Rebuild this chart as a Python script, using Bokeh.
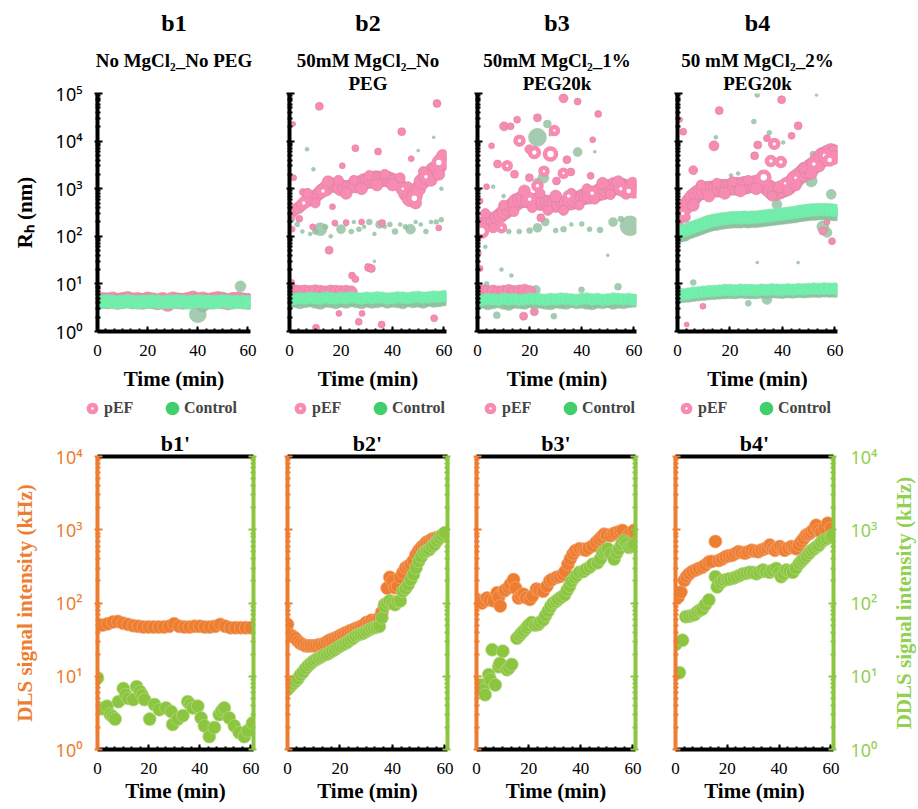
from bokeh.plotting import figure
from bokeh.models import (Range1d, LogAxis, LinearAxis, FixedTicker, SingleIntervalTicker,
                          Title, Legend, LegendItem)
from bokeh.layouts import row, column
from bokeh.embed import file_html
from bokeh.resources import INLINE

# ------------------------------------------------------------------ data
TIME_2 = [0, 2, 4, 6, 8, 10, 12, 14, 16, 18, 20, 22, 24, 26, 28, 30, 32, 34, 36, 38, 40,
          42, 44, 46, 48, 50, 52, 54, 56, 58, 60]
TIME_15 = [0, 1.5, 3, 4.5, 6, 7.5, 9, 10.5, 12, 13.5, 15, 16.5, 18, 19.5, 21, 22.5, 24, 25.5,
           27, 28.5, 30, 31.5, 33, 34.5, 36, 37.5, 39, 40.5, 42, 43.5, 45, 46.5, 48, 49.5, 51,
           52.5, 54, 55.5, 57, 58.5, 60]
TIME_1 = [0, 1, 2, 3, 4, 5, 6, 7, 8, 9, 10, 11, 12, 13, 14, 15, 16, 17, 18, 19, 20, 21, 22,
          23, 24, 25, 26, 27, 28, 29, 30, 31, 32, 33, 34, 35, 36, 37, 38, 39, 40, 41, 42, 43,
          44, 45, 46, 47, 48, 49, 50, 51, 52, 53, 54, 55, 56, 57, 58, 59, 60]

# --- b1 : Rh (nm)
B1_PEF_V = [4.3, 4.5, 4.4, 4.6, 4.3, 4.5, 4.7, 4.4, 4.5, 4.3, 4.6, 4.4, 4.2, 4.5, 3.9, 4.6,
            4.4, 4.3, 4.5, 4.8, 4.4, 4.6, 4.3, 4.5, 4.7, 4.4, 4.2, 4.5, 4.6, 4.4, 4.3]
B1_PEF_X_T = [46]
B1_PEF_X_V = [0.95]
B1_PEF_X_S = [5]
B1_RING_T = [60]
B1_RING_V = [4.3]
B1_RING_S = [11]
B1_CTRL_V = [4.1, 4.2, 4.3, 4.2, 4.1, 4.2, 4.3, 4.2, 4.1, 4.2, 4.2, 4.3, 4.2, 4.1, 4.2, 4.2,
             4.3, 4.2, 4.1, 4.2, 4.3, 4.2, 4.2, 4.1, 4.2, 4.3, 4.2, 4.1, 4.2, 4.2, 4.1]
B1_CTRL_X_T = [36, 40, 42, 46, 50, 52, 57]
B1_CTRL_X_V = [4.5, 2.3, 3.4, 4.6, 4.8, 4.0, 8.9]
B1_CTRL_X_S = [12, 17, 12, 14, 14, 12, 11]

# --- b2
B2_PEF_T = [0.5, 2, 3.5, 5, 6.5, 8, 9.5, 11, 12.5, 14, 15.5, 17, 18.5, 20, 21.5, 23, 24.5, 26,
            27.5, 29, 30.5, 32, 33.5, 35, 36.5, 38, 39.5, 41, 42.5, 44, 45.5, 47, 48.5, 50,
            51.5, 53, 54.5, 56, 57.5, 59, 60]
B2_PEF_V = [282, 355, 398, 468, 550, 603, 646, 759, 891, 1000, 1122, 1230, 1122, 1047, 1047,
            1096, 1148, 1202, 1318, 1413, 1445, 1514, 1585, 1585, 1622, 1585, 1514, 1413, 1259,
            1000, 794, 631, 708, 1000, 1413, 1778, 1995, 2399, 2818, 3548, 3981]
B2_PEF_S = [10, 11, 12, 12, 13, 12, 14, 13, 14, 15, 14, 13, 14, 16, 15, 13, 14, 16, 15, 16, 15,
            16, 17, 16, 15, 16, 15, 15, 14, 14, 16, 17, 16, 15, 16, 15, 16, 17, 16, 18, 17]
B2_PEF_X_T = [11.6, 57.3, 1.4, 43.6, 25.6, 34.4, 20.5, 47.3, 1.6, 5.2, 16.7, 3.8, 1.0, 17.6,
              15.4, 30.7, 31.8, 24.3, 25.6, 19.2, 28.2, 26.9, 10.3, 35.8, 56.2, 40.9, 36, 28,
              9, 22, 58, 7, 10, 15, 19, 22, 25, 28, 31, 34, 37, 40, 43, 46, 49, 52, 55, 58,
              59.5, 0.5, 1.0]
B2_PEF_X_V = [53700, 61700, 23000, 15800, 7080, 6030, 3020, 4270, 1700, 850, 417, 234, 141,
              191, 51, 22, 21, 15, 12.6, 2.4, 2.4, 1.6, 1.2, 1.4, 1.9, 4.1, 191, 200, 158, 195,
              150, 800, 500, 1400, 1500, 800, 1500, 1000, 1900, 1200, 2000, 1200, 1700, 1100,
              500, 2300, 1500, 2000, 5000, 10.5, 11]
B2_PEF_X_S = [8, 8, 5, 8, 7, 7, 6, 6, 6, 7, 6, 7, 6, 6, 8, 8, 8, 7, 7, 6, 6, 7, 7, 7, 7, 6, 7,
              6, 6, 6, 6, 10, 10, 12, 10, 12, 10, 12, 10, 12, 10, 12, 10, 10, 12, 10, 12, 12,
              12, 6, 5]
B2_RING_T = [5.5, 13, 44, 48.5, 53, 58]
B2_RING_V = [501, 891, 1000, 631, 1778, 3548]
B2_RING_S = [8, 8, 7, 10, 8, 10]
B2_PEF_LOW_T = [0, 2, 4, 6, 8, 10, 12, 14, 16, 18, 20, 22, 24]
B2_PEF_LOW_V = [7.4, 7.2, 7.0, 7.1, 6.9, 7.2, 7.0, 6.8, 7.1, 7.0, 6.9, 7.0, 6.8]
B2_CTRL_LOW_V = [4.6, 4.8, 5.0, 4.9, 5.1, 5.0, 4.9, 5.2, 5.0, 4.9, 5.1, 5.0, 5.2, 5.0, 4.9,
                 5.1, 5.0, 5.2, 5.1, 4.9, 5.0, 5.2, 5.1, 5.0, 5.2, 5.3, 5.1, 5.2, 5.4, 5.3, 5.5]
B2_SAGE_LOW_V = [4.2, 4.4, 4.1, 4.3, 4.5, 4.2, 4.0, 4.4, 4.3, 4.1, 4.4, 4.2, 4.5, 4.3, 4.1,
                 4.4, 4.2, 4.3, 4.5, 4.2, 4.4, 4.3, 4.1, 4.5, 4.3, 4.4, 4.2, 4.6, 4.4, 4.5, 4.7]
B2_CTRL_X_T = [3, 5, 8, 10, 12, 14, 16, 18, 20, 22, 24, 25, 27, 29, 31, 33, 35, 37, 39, 41,
               43, 45, 47, 49, 51, 53, 55, 57, 59, 6.8, 9.3, 50, 56, 59, 2, 1, 30, 33]
B2_CTRL_X_V = [178, 126, 112, 126, 141, 158, 100, 178, 141, 178, 126, 200, 141, 158, 200, 112,
               178, 158, 178, 126, 178, 158, 141, 200, 178, 126, 200, 200, 224, 6760, 2570,
               6310, 12000, 1000, 350, 220, 25, 30]
B2_CTRL_X_S = [5, 4, 4, 6, 13, 5, 4, 4, 9, 4, 5, 4, 5, 4, 6, 4, 8, 4, 5, 6, 4, 5, 10, 4, 4, 5,
               4, 5, 5, 4, 4, 3, 3, 4, 6, 5, 3, 3]

# --- b3
B3_PEF_V = [166, 178, 191, 204, 224, 251, 282, 331, 380, 447, 525, 589, 603, 575, 562, 537,
            525, 513, 501, 490, 479, 479, 490, 513, 537, 575, 631, 676, 708, 741, 776, 832,
            891, 977, 1072, 1122, 1122, 1072, 1047, 1000, 977]
B3_PEF_S = [16, 15, 14, 14, 15, 14, 15, 16, 15, 16, 17, 16, 17, 16, 15, 16, 17, 16, 15, 16,
            17, 16, 15, 16, 17, 16, 15, 16, 17, 18, 16, 17, 18, 17, 16, 18, 17, 18, 16, 17, 18]
B3_PEF_X_T = [33, 38.4, 46.3, 23, 15.2, 10.2, 12.7, 5.4, 19.9, 7.7, 14.2, 34.3, 35.8, 32.4,
              30.3, 19.9, 43.4, 44.2, 3.5, 1.0, 24.3, 1.0, 17.7, 21.8, 0.5,
              3, 6, 10, 14, 18, 21, 24, 27, 30, 33, 36, 39, 42, 45, 48, 51, 54, 57, 59.5]
B3_PEF_X_V = [79400, 67600, 37200, 30900, 28200, 20400, 20400, 7940, 6760, 3310, 2000, 4070,
              2240, 2090, 1450, 1700, 1860, 10700, 1100, 550, 245, 21, 2.1, 2.6, 45,
              300, 150, 450, 330, 900, 400, 800, 350, 700, 350, 800, 450, 1000, 600, 1300,
              750, 1400, 800, 1300]
B3_PEF_X_S = [9, 7, 7, 8, 7, 9, 7, 6, 9, 8, 8, 8, 8, 8, 8, 8, 7, 6, 6, 6, 8, 6, 8, 8, 5,
              10, 10, 10, 10, 12, 10, 10, 10, 12, 10, 10, 10, 10, 10, 12, 10, 12, 12, 12]
B3_RING_T = [1.6, 9.2, 16.1, 21.8, 28, 11.4, 25.5, 23, 29.5, 33, 35, 55, 58, 20, 44]
B3_RING_V = [129, 151, 10200, 5750, 5370, 3020, 2340, 1150, 16600, 2100, 700, 1000, 900, 600,
             800]
B3_RING_S = [11, 7, 8, 9, 11, 7, 7, 8, 7, 7, 8, 8, 9, 8, 8]
B3_PEF_LOW_T = [0, 2, 4, 6, 8, 10, 12, 14, 16, 18, 20]
B3_PEF_LOW_V = [7.0, 7.2, 6.9, 7.1, 6.8, 7.0, 7.3, 6.9, 7.1, 7.4, 6.9]
B3_CTRL_LOW_V = [4.5, 4.6, 4.8, 4.7, 4.6, 4.9, 4.7, 4.8, 4.6, 4.7, 4.9, 4.8, 4.7, 4.6, 4.8,
                 4.7, 4.9, 4.8, 4.7, 4.6, 4.8, 4.9, 4.7, 4.8, 4.6, 4.7, 4.9, 4.8, 4.7, 4.8, 4.6]
B3_SAGE_LOW_V = [4.0, 4.2, 3.9, 4.1, 4.3, 4.0, 3.8, 4.2, 4.1, 4.0, 4.3, 4.1, 4.2, 4.0, 3.9,
                 4.2, 4.1, 4.0, 4.3, 4.1, 4.2, 4.0, 3.9, 4.2, 4.1, 4.3, 4.0, 4.2, 4.1, 4.3, 4.4]
B3_CTRL_X_T = [23, 26.8, 38.4, 25.3, 23, 12, 16, 20, 23, 26, 30, 33, 36, 40, 43, 47, 52, 55,
               58.5, 3.5, 9.2, 13, 29.3, 7.4, 53.9, 39.9, 22.4, 6, 10, 28, 45, 3, 50]
B3_CTRL_X_V = [12000, 22900, 5890, 1700, 1350, 126, 126, 132, 151, 200, 132, 141, 178, 182,
               141, 135, 200, 230, 166, 10, 20, 15, 2.1, 2.2, 8.7, 7.5, 7.5, 1100, 700, 14000,
               6000, 60, 40]
B3_CTRL_X_S = [18, 8, 9, 11, 9, 5, 5, 6, 9, 8, 5, 6, 4, 5, 5, 6, 9, 6, 20, 5, 4, 4, 6, 7, 7,
               6, 9, 4, 4, 4, 3, 4, 3]

# --- b4
B4_PEF_V = [229, 316, 417, 537, 661, 794, 871, 912, 955, 1000, 1000, 1023, 1047, 1072, 1096,
            1122, 1148, 1175, 1202, 1230, 1259, 1259, 1202, 1047, 912, 851, 891, 1000, 1122,
            1318, 1585, 1862, 2138, 2455, 2818, 3311, 3981, 4677, 5248, 5754, 5495]
B4_PEF_S = [14, 15, 16, 16, 17, 16, 17, 18, 17, 16, 17, 18, 17, 16, 17, 18, 17, 18, 17, 16,
            18, 17, 16, 17, 18, 17, 16, 17, 18, 17, 18, 17, 18, 17, 18, 17, 18, 19, 18, 18, 17]
B4_PEF_X_T = [39.7, 15.9, 1.0, 2.2, 13.9, 6.0, 30.6, 29.4, 34.1, 43.5, 46, 55.4, 58.9, 9.7,
              3.5, 12, 57, 0, 1,
              3, 6, 9, 12, 15, 18, 21, 24, 27, 30, 33, 36, 39, 42, 45, 48, 51, 54, 57, 59.5]
B4_PEF_X_V = [74100, 43700, 28200, 15800, 7940, 2450, 8320, 4900, 11500, 12900, 20900, 129,
              79, 3.4, 1.4, 1.0, 200, 6.2, 5.8,
              250, 450, 1200, 700, 1300, 800, 1400, 900, 1500, 1000, 1500, 700, 1100, 900,
              1200, 2700, 2100, 3000, 4000, 4500]
B4_PEF_X_S = [8, 8, 5, 7, 10, 9, 8, 8, 7, 7, 8, 8, 7, 6, 5, 5, 6, 10, 8,
              10, 12, 10, 12, 10, 12, 10, 12, 10, 12, 10, 10, 12, 10, 12, 10, 12, 12, 12, 14]
B4_RING_T = [32.9, 36.9, 35.6, 39.4, 45, 52, 56, 58, 41, 2]
B4_RING_V = [1740, 8710, 3800, 3630, 1700, 3300, 5000, 4000, 1300, 300]
B4_RING_S = [11, 8, 8, 8, 7, 8, 8, 9, 7, 8]
B4_CTRL_MID_V = [117, 126, 135, 145, 155, 166, 178, 191, 204, 214, 219, 229, 234, 240, 245,
                 245, 245, 251, 245, 251, 251, 257, 263, 269, 275, 282, 288, 295, 302, 309,
                 316, 331, 339, 347, 355, 355, 363, 363, 363, 355, 347]
B4_SAGE_MID_V = [100, 107, 115, 123, 132, 141, 151, 162, 173, 182, 186, 195, 199, 204, 208,
                 208, 208, 213, 208, 213, 213, 218, 224, 229, 234, 240, 245, 251, 257, 263,
                 269, 281, 288, 295, 302, 302, 309, 309, 309, 302, 295]
B4_CTRL_LOW_V = [5.9, 6.0, 6.2, 6.5, 6.6, 6.8, 7.0, 7.1, 7.2, 7.4, 7.4, 7.3, 7.5, 7.4, 7.4,
                 7.3, 7.5, 7.4, 7.6, 7.5, 7.4, 7.6, 7.5, 7.7, 7.6, 7.8, 7.9, 7.8, 8.0, 7.9, 7.9]
B4_SAGE_LOW_V = [5.3, 5.5, 5.6, 5.8, 6.0, 6.1, 6.3, 6.4, 6.5, 6.6, 6.7, 6.6, 6.8, 6.7, 6.6,
                 6.6, 6.8, 6.7, 6.9, 6.8, 6.7, 6.9, 6.8, 7.0, 6.9, 7.0, 7.1, 7.0, 7.2, 7.1, 7.1]
B4_CTRL_X_T = [30.4, 29.1, 14.6, 20.4, 23.1, 27, 40.3, 51.6, 47.9, 51, 58.6, 37.9, 55.4, 57,
               6, 30.4, 46, 34.1, 27, 0.4, 1, 3, 35, 25, 53]
B4_CTRL_X_V = [93300, 25700, 12000, 1900, 2090, 890, 9330, 5370, 2820, 1450, 760, 468, 158,
               120, 10.7, 28, 28, 4.7, 3.9, 52, 100, 95, 15000, 1300, 93300]
B4_CTRL_X_S = [5, 5, 4, 4, 4, 5, 4, 6, 10, 12, 10, 10, 12, 10, 6, 3, 3, 10, 6, 4, 10, 8, 5,
               4, 3]

# --- b1'..b4' : DLS (orange) and DDLS (green) signal intensity (kHz)
B1S_DLS_V = [50, 50, 52, 55, 56, 53, 51, 49, 48, 47, 47, 47, 47, 47, 48, 52, 48, 47, 47, 48,
             48, 47, 47, 48, 51, 48, 46, 46, 46, 46, 46]
B1S_DDLS_T = [0, 0.6, 2.2, 3.7, 5.0, 6.0, 6.9, 8.2, 10.1, 11.0, 12.0, 14.0, 15.3, 16.6, 17.5,
              18.4, 20.4, 22.3, 24.2, 26.8, 28.8, 29.4, 31.4, 33.4, 35.3, 36.3, 37.3, 39.2,
              40.5, 41.8, 43.7, 45.7, 47.6, 48.6, 49.6, 51.5, 53.5, 55.4, 57.4, 58.7, 60.6]
B1S_DDLS_V = [9.5, 3.7, 3.6, 3.9, 3.0, 2.8, 2.6, 4.5, 6.8, 5.6, 5.0, 4.8, 7.2, 6.2, 5.5, 4.8,
              2.6, 4.1, 3.5, 3.7, 3.3, 2.2, 2.6, 2.9, 4.5, 4.1, 3.7, 3.9, 2.7, 2.1, 1.5, 2.0,
              3.0, 3.4, 3.7, 2.7, 2.1, 1.7, 1.5, 1.8, 2.3]

B2S_DLS_V = [51, 37, 35, 33, 30, 28, 27, 26, 26, 26, 26, 26, 27, 27, 28, 29.5, 31, 32, 33, 34,
             36, 37, 39, 40, 42, 43, 45, 46, 48, 50, 54, 53, 58, 56, 55, 63, 75, 95, 160, 224,
             200, 162, 170, 224, 260, 302, 320, 339, 380, 457, 520, 575, 620, 676, 700, 741,
             760, 776, 800, 832, 871]
B2S_DDLS_V = [6.6, 7.2, 7.9, 8.5, 9.3, 10.5, 11.5, 12.9, 14.1, 15.1, 16.2, 17, 17.8, 18.6,
              19.5, 20, 20.9, 22, 23, 24.5, 25.7, 27, 28, 29.5, 31.6, 33, 35.5, 37, 38, 39,
              41, 43, 45, 46, 47, 48, 63, 91, 100, 107, 100, 95, 105, 107, 145, 158, 178, 209,
              245, 302, 372, 427, 490, 513, 537, 589, 631, 708, 776, 851, 912]

B3S_DLS_T = [0, 1, 2.1, 3, 4, 5, 6.6, 7.9, 8.5, 9.1, 10.4, 11, 12.3, 13, 14.2, 15, 16.1, 17,
             18, 19, 20.5, 21.5, 23, 24, 25.6, 27, 28.1, 29, 30.7, 32, 33.2, 34, 35.1, 36, 37,
             38, 39.5, 41, 42, 43, 44.6, 46, 47.1, 48, 49, 50, 51.5, 52.5, 53.5, 55, 56, 57.9,
             59, 60.4]
B3S_DLS_V = [112, 105, 100, 108, 117, 110, 107, 138, 120, 91, 145, 150, 162, 180, 209, 160,
             117, 125, 132, 118, 112, 125, 155, 150, 145, 170, 200, 210, 224, 230, 245, 270,
             339, 400, 468, 520, 550, 540, 525, 560, 603, 680, 741, 800, 871, 850, 832, 880,
             912, 950, 977, 832, 900, 977]
B3S_DDLS_T = [0, 1, 1.9, 2.6, 3.3, 4.7, 5.3, 6, 7.2, 8.5, 9, 10.1, 11.7, 12.5, 13.5, 15.5,
              16.5, 17.3, 18.2, 19.2, 20, 21.1, 22.5, 23.7, 24.5, 25.6, 26.5, 27.5, 28.5, 29.4,
              30.5, 31.3, 32.5, 33.8, 34.8, 35.7, 36.5, 37.6, 38.5, 39.5, 41, 42, 43.5, 44.6,
              46.5, 47.5, 48.4, 49.3, 50.3, 51.5, 52.8, 53.8, 54.7, 55.7, 56.6, 57.5, 58.5,
              59.5, 60.4]
B3S_DDLS_V = [6.9, 7.0, 7.6, 6.5, 5.6, 10.5, 9, 23, 7.6, 13.5, 15, 22, 12.3, 13, 14.5, 33, 36,
              39, 42, 46, 50, 54, 50, 51, 55, 59, 68, 78, 90, 100, 105, 112, 120, 129, 150,
              170, 200, 224, 240, 263, 270, 288, 310, 339, 355, 400, 490, 520, 550, 470, 398,
              480, 550, 640, 708, 650, 575, 600, 631]

B4S_DLS_T = [0.2, 1, 2.1, 3.4, 4.3, 5.3, 6.5, 7.8, 9, 10.4, 11.5, 12.9, 14, 15.4, 16.7, 18,
             19.3, 20.5, 21.8, 23, 24.3, 25.5, 26.9, 28, 29.4, 30.7, 32, 33.2, 34.5, 35.5,
             36.4, 37.5, 38.4, 39.3, 40.3, 41.3, 42.2, 43.5, 44.8, 45.7, 46.7, 47.6, 48.6,
             49.5, 50.5, 51.5, 52.4, 53.3, 54.3, 55.2, 56.2, 57.5, 58.8, 60]
B4S_DLS_V = [135, 120, 141, 204, 230, 251, 270, 282, 295, 309, 330, 363, 370, 692, 380, 400,
             427, 440, 447, 470, 501, 490, 479, 500, 525, 510, 501, 530, 550, 570, 617, 560,
             525, 560, 589, 550, 525, 560, 589, 570, 550, 620, 692, 760, 851, 880, 933, 1000,
             1148, 1000, 933, 1050, 1230, 1047]
B4S_DDLS_T = [0.2, 1.5, 2.7, 4.0, 5.3, 6.6, 7.5, 8.5, 9.5, 10.4, 11.5, 12.9, 15.4, 16.1, 17.5,
              18.6, 20, 21.1, 22.5, 23.7, 25, 26.2, 27.5, 28.7, 30, 31.3, 32.5, 33.8, 35,
              36.4, 37.5, 38.9, 40, 40.8, 41.8, 42.8, 44, 45.3, 46.5, 47.8, 48.8, 49.7, 50.6,
              51.6, 52.5, 53.5, 54.5, 55.4, 56.3, 57.3, 58.5, 59.8, 60.5]
B4S_DDLS_V = [27.5, 11.2, 31, 65, 66, 68, 70, 76, 80, 83, 95, 110, 229, 166, 190, 204, 210,
              214, 220, 229, 240, 251, 255, 263, 260, 251, 265, 282, 270, 263, 280, 295, 260,
              229, 250, 282, 270, 263, 300, 347, 380, 407, 440, 479, 520, 550, 590, 617, 680,
              724, 760, 794, 832]

TOP_TICKS = [1, 10, 100, 1000, 10000, 100000]
TOP_LABELS = {1: "10⁰", 10: "10¹", 100: "10²", 1000: "10³", 10000: "10⁴", 100000: "10⁵"}
BOT_TICKS = [1, 10, 100, 1000, 10000]
BOT_LABELS = {1: "10⁰", 10: "10¹", 100: "10²", 1000: "10³", 10000: "10⁴"}

# ------------------------------------------------------------------ styles
PINK = "#f78bb1"
PINK_LINE = "#d9829f"
MINT = "#6ff0ab"
SAGE = "#8fbf9e"
LEG_GREEN = "#3fcf6b"
ORANGE = "#ed7d31"
LGREEN = "#8cc540"
LGREEN_TXT = "#92d050"
SERIF = "Liberation Serif"
SANS = "Noto Sans"


def minor_list(nd):
    return [m * 10 ** k for k in range(nd) for m in range(2, 10)]


def base_fig(width, height, bl, br, bt, bb, ymax):
    p = figure(width=width, height=height, x_range=Range1d(0, 61), y_range=Range1d(1, ymax),
               y_axis_type="log", output_backend="svg", toolbar_location=None,
               min_border_left=bl, min_border_right=br, min_border_top=bt,
               min_border_bottom=bb)
    p.outline_line_color = None
    p.xgrid.visible = False
    p.ygrid.visible = False
    p.background_fill_color = "white"
    p.border_fill_color = "white"
    return p


def style_x(ax, standoff, label_standoff):
    ax.ticker = SingleIntervalTicker(interval=20, num_minor_ticks=6)
    ax.axis_line_width = 4
    ax.axis_line_color = "black"
    ax.major_tick_in = 5
    ax.major_tick_out = 0
    ax.major_tick_line_width = 2
    ax.minor_tick_in = 3
    ax.minor_tick_out = 0
    ax.minor_tick_line_width = 2
    ax.major_label_text_font = SERIF
    ax.major_label_text_font_size = "17px"
    ax.major_label_text_color = "black"
    ax.major_label_standoff = standoff
    ax.axis_label = "Time (min)"
    ax.axis_label_text_font = SERIF
    ax.axis_label_text_font_style = "bold"
    ax.axis_label_text_font_size = "21px"
    ax.axis_label_text_color = "black"
    ax.axis_label_standoff = label_standoff


def style_y(ax, ticks, labels, color, show, label_text=None, label_color="black",
            standoff=12, label_standoff=14):
    ax.ticker = FixedTicker(ticks=ticks, minor_ticks=minor_list(len(ticks) - 1))
    ax.axis_line_width = 4
    ax.axis_line_color = color
    ax.major_tick_in = 5
    ax.major_tick_out = 3
    ax.major_tick_line_width = 2
    ax.major_tick_line_color = color
    ax.minor_tick_in = 3
    ax.minor_tick_out = 2
    ax.minor_tick_line_width = 2
    ax.minor_tick_line_color = color
    if show:
        ax.major_label_overrides = labels
        ax.major_label_text_font = SANS
        ax.major_label_text_font_size = "18px"
        ax.major_label_text_color = label_color
        ax.major_label_standoff = standoff
        if label_text:
            ax.axis_label = label_text
            ax.axis_label_text_font = SERIF
            ax.axis_label_text_font_style = "bold"
            ax.axis_label_text_font_size = "21px"
            ax.axis_label_text_color = label_color
            ax.axis_label_standoff = label_standoff
        else:
            ax.axis_label = None
    else:
        ax.major_label_overrides = {k: "" for k in ticks}
        ax.major_label_standoff = 0
        ax.axis_label = None


def add_titles(p, head, head_size, lines, line_size):
    for ln in reversed(lines):
        p.add_layout(Title(text=ln, align="center", text_font=SERIF, text_font_style="bold",
                           text_font_size=line_size, text_color="black", standoff=0), "above")
    # small blank line that separates the panel letter from the condition text
    p.add_layout(Title(text=" ", align="center", text_font=SERIF, text_font_size="9px",
                       standoff=0), "above")
    p.add_layout(Title(text=head, align="center", text_font=SERIF, text_font_style="bold",
                       text_font_size=head_size, text_color="black", standoff=0), "above")


def top_panel(head, lines, width, bl, br, show_y,
              pef_t, pef_v, pef_s, px_t, px_v, px_s, ring_t, ring_v, ring_s,
              low_pef_t, low_pef_v,
              sage_low_v, mint_low_v, cx_t, cx_v, cx_s,
              sage_mid_v=None, mint_mid_v=None):
    p = base_fig(width, 397, bl, br, 93, 66, 1e5)
    add_titles(p, head, "24px", lines, "19px")
    style_x(p.below[0], 13, 8)
    style_y(p.left[0], TOP_TICKS, TOP_LABELS, "black", show_y, "Rₕ (nm)", "black", 12, 16)

    # control scatter behind
    p.scatter(cx_t, cx_v, size=cx_s, marker="circle", fill_color=SAGE, fill_alpha=0.8,
              line_color=SAGE, line_alpha=0.8, line_width=0.5)
    # pEF
    if low_pef_t:
        p.scatter(low_pef_t, low_pef_v, size=12, marker="circle", fill_color=PINK,
                  line_color=PINK_LINE, line_width=0.6)
    p.scatter(pef_t, pef_v, size=pef_s, marker="circle", fill_color=PINK,
              line_color=PINK_LINE, line_width=0.6)
    p.scatter(px_t, px_v, size=px_s, marker="circle", fill_color=PINK,
              line_color=PINK_LINE, line_width=0.6)
    p.scatter(ring_t, ring_v, size=ring_s, marker="circle", fill_color="white",
              line_color=PINK, line_width=4.5)
    # control bands
    if sage_mid_v is not None:
        p.scatter(TIME_15, sage_mid_v, size=14, marker="circle", fill_color=SAGE,
                  fill_alpha=0.9, line_color=SAGE, line_width=0.5)
        p.scatter(TIME_15, mint_mid_v, size=13, marker="circle", fill_color=MINT,
                  fill_alpha=0.9, line_color="#86d9ad", line_width=0.5)
    if sage_low_v is not None:
        p.scatter(TIME_2, sage_low_v, size=13, marker="circle", fill_color=SAGE,
                  fill_alpha=0.9, line_color=SAGE, line_width=0.5)
    p.scatter(TIME_2, mint_low_v, size=14 if sage_low_v is None else 12,
              marker="circle", fill_color=MINT, fill_alpha=0.95,
              line_color="#86d9ad", line_width=0.5)
    return p


def legend_strip(width, x0, pef_t, pef_v, ctl_v):
    # the series are re-plotted here outside the visible range, only to key the legend
    lf = figure(width=width, height=23, output_backend="svg", toolbar_location=None,
                x_range=Range1d(0, 1), y_range=Range1d(-1, 0),
                x_axis_location=None, y_axis_location=None,
                min_border_left=0, min_border_right=0, min_border_top=0, min_border_bottom=0)
    lf.outline_line_color = None
    lf.xgrid.visible = False
    lf.ygrid.visible = False
    r_pef = lf.scatter(pef_t, pef_v, marker="circle", size=8, fill_color="white",
                       line_color=PINK, line_width=4.5)
    r_ctl = lf.scatter(TIME_2, ctl_v, marker="circle", size=8, fill_color=LEG_GREEN,
                       line_color=LEG_GREEN, line_width=6.5)
    leg = Legend(items=[LegendItem(label="pEF", renderers=[r_pef]),
                        LegendItem(label="Control", renderers=[r_ctl])],
                 orientation="horizontal", location=(x0, 2),
                 label_text_font=SERIF, label_text_font_style="bold",
                 label_text_font_size="16px", label_width=55, label_standoff=3,
                 label_height=20, glyph_width=18, glyph_height=20, spacing=4,
                 padding=0, margin=0, border_line_color=None, background_fill_alpha=0)
    lf.add_layout(leg)
    return lf


def bottom_panel(head, width, bl, br, dls_t, dls_v, ddls_t, ddls_v, show_left, show_right):
    p = base_fig(width, 389, bl, br, 36, 60, 1e4)
    top = LinearAxis(ticker=FixedTicker(ticks=[]), axis_line_width=4, axis_line_color="black",
                     major_label_standoff=0, major_tick_in=0, major_tick_out=0,
                     minor_tick_in=0, minor_tick_out=0)
    p.add_layout(top, "above")
    p.add_layout(Title(text=head, align="center", text_font=SERIF, text_font_style="bold",
                       text_font_size="22px", text_color="black", standoff=2), "above")
    style_x(p.below[0], 13, 2)
    style_y(p.left[0], BOT_TICKS, BOT_LABELS, ORANGE, show_left,
            "DLS signal intensity (kHz)", ORANGE, 12, 16)
    rax = LogAxis()
    p.add_layout(rax, "right")
    style_y(rax, BOT_TICKS, BOT_LABELS, LGREEN, show_right, None, LGREEN_TXT, 14, 10)
    p.scatter(dls_t, dls_v, size=13, marker="circle", fill_color=ORANGE,
              line_color="#f4a672", line_width=0.7)
    p.scatter(ddls_t, ddls_v, size=13, marker="circle", fill_color=LGREEN,
              line_color="#b3da83", line_width=0.7)
    return p


def right_title_strip(width, text):
    # narrow companion whose (invisible) left axis carries the right-hand axis title
    r = figure(width=width, height=389, output_backend="svg", toolbar_location=None,
               x_range=Range1d(0, 1), y_range=Range1d(1, 1e4), y_axis_type="log",
               x_axis_location=None, min_border_left=width - 1, min_border_right=0,
               min_border_top=36, min_border_bottom=60)
    r.outline_line_color = None
    r.xgrid.visible = False
    r.ygrid.visible = False
    ax = r.left[0]
    ax.ticker = FixedTicker(ticks=[])
    ax.axis_line_color = None
    ax.major_tick_line_color = None
    ax.minor_tick_line_color = None
    ax.major_label_standoff = 0
    ax.axis_label = text
    ax.axis_label_text_font = SERIF
    ax.axis_label_text_font_style = "bold"
    ax.axis_label_text_font_size = "21px"
    ax.axis_label_text_color = LGREEN_TXT
    ax.axis_label_standoff = 2
    return r


t1 = top_panel("b1", ["No MgCl₂_No PEG", " "], 270, 97, 20, True,
               TIME_2, B1_PEF_V, 16, B1_PEF_X_T, B1_PEF_X_V, B1_PEF_X_S,
               B1_RING_T, B1_RING_V, B1_RING_S, [], [],
               None, B1_CTRL_V, B1_CTRL_X_T, B1_CTRL_X_V, B1_CTRL_X_S)
t2 = top_panel("b2", ["50mM MgCl₂_No", "PEG"], 190, 19, 14, False,
               B2_PEF_T, B2_PEF_V, B2_PEF_S, B2_PEF_X_T, B2_PEF_X_V, B2_PEF_X_S,
               B2_RING_T, B2_RING_V, B2_RING_S, B2_PEF_LOW_T, B2_PEF_LOW_V,
               B2_SAGE_LOW_V, B2_CTRL_LOW_V, B2_CTRL_X_T, B2_CTRL_X_V, B2_CTRL_X_S)
t3 = top_panel("b3", ["50mM MgCl₂_1%", "PEG20k"], 200, 17, 24, False,
               TIME_15, B3_PEF_V, B3_PEF_S, B3_PEF_X_T, B3_PEF_X_V, B3_PEF_X_S,
               B3_RING_T, B3_RING_V, B3_RING_S, B3_PEF_LOW_T, B3_PEF_LOW_V,
               B3_SAGE_LOW_V, B3_CTRL_LOW_V, B3_CTRL_X_T, B3_CTRL_X_V, B3_CTRL_X_S)
t4 = top_panel("b4", ["50 mM MgCl₂_2%", "PEG20k"], 258, 17, 81, False,
               TIME_15, B4_PEF_V, B4_PEF_S, B4_PEF_X_T, B4_PEF_X_V, B4_PEF_X_S,
               B4_RING_T, B4_RING_V, B4_RING_S, [], [],
               B4_SAGE_LOW_V, B4_CTRL_LOW_V, B4_CTRL_X_T, B4_CTRL_X_V, B4_CTRL_X_S,
               B4_SAGE_MID_V, B4_CTRL_MID_V)

l1 = legend_strip(270, 83, B1_RING_T, B1_RING_V, B1_CTRL_V)
l2 = legend_strip(190, 21, B2_RING_T, B2_RING_V, B2_CTRL_LOW_V)
l3 = legend_strip(200, 21, B3_RING_T, B3_RING_V, B3_CTRL_LOW_V)
l4 = legend_strip(258, 17, B4_RING_T, B4_RING_V, B4_CTRL_LOW_V)

s1 = bottom_panel("b1'", 268, 97, 15, TIME_2, B1S_DLS_V, B1S_DDLS_T, B1S_DDLS_V, True, False)
s2 = bottom_panel("b2'", 190, 19, 11, TIME_1, B2S_DLS_V, TIME_1, B2S_DDLS_V, False, False)
s3 = bottom_panel("b3'", 202, 18, 25, B3S_DLS_T, B3S_DLS_V, B3S_DDLS_T, B3S_DDLS_V,
                  False, False)
s4 = bottom_panel("b4'", 228, 15, 55, B4S_DLS_T, B4S_DLS_V, B4S_DDLS_T, B4S_DDLS_V,
                  False, True)
r4 = right_title_strip(30, "DDLS signal intensity (kHz)")

top_row = row(t1, t2, t3, t4, spacing=0)
legend_row = row(l1, l2, l3, l4, spacing=0)
bottom_row = row(s1, s2, s3, s4, r4, spacing=0)
p = column(top_row, legend_row, bottom_row, spacing=0)

open("out.html", "w").write(file_html(p, INLINE))
